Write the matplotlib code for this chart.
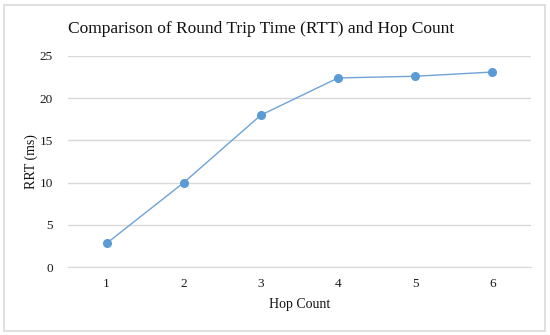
import matplotlib.pyplot as plt
from matplotlib.patches import Rectangle

hop_count = [1, 2, 3, 4, 5, 6]
rtt_ms = [2.8, 10.0, 18.0, 22.4, 22.6, 23.1]
y_ticks = [0, 5, 10, 15, 20, 25]

plt.rcParams['font.family'] = ['Liberation Serif', 'DejaVu Serif']

fig = plt.figure(figsize=(5.5, 3.35), dpi=100)
ax = fig.add_axes([68 / 550, 1 - 267 / 335, (531 - 68) / 550, (267 - 56) / 335])

# light grey frame round the whole chart
fig.patches.append(Rectangle((4 / 550, 4 / 335), 541 / 550, 326 / 335,
                             transform=fig.transFigure, fill=False,
                             edgecolor='#d9d9d9', linewidth=1.2))

ax.plot(range(len(hop_count)), rtt_ms, color='#6fa3d6', linewidth=1.0,
        marker='o', markersize=5.5, markerfacecolor='#5b9bd5',
        markeredgecolor='#5b9bd5', zorder=3)

ax.set_xlim(-0.5, len(hop_count) - 0.5)
ax.set_ylim(0, 25)
ax.set_xticks(range(len(hop_count)))
ax.set_xticklabels([str(h) for h in hop_count])
ax.set_yticks(y_ticks)
ax.yaxis.grid(True, color='#d9d9d9', linewidth=1)
ax.set_axisbelow(True)

for side in ['top', 'right', 'left']:
    ax.spines[side].set_visible(False)
ax.spines['bottom'].set_color('#d9d9d9')
ax.tick_params(length=0, labelsize=9.5, colors='#1a1a1a')
ax.tick_params(axis='y', pad=11)
ax.tick_params(axis='x', pad=8)

ax.set_xlabel('Hop Count', fontsize=10, color='#111111', labelpad=6)
ax.set_ylabel('RRT (ms)', fontsize=10, color='#111111', labelpad=1)

fig.text(261 / 550, 1 - 29 / 335, 'Comparison of Round Trip Time (RTT) and Hop Count',
         ha='center', va='center', fontsize=12.5, color='#111111')

fig.savefig('out.png', dpi=100)
